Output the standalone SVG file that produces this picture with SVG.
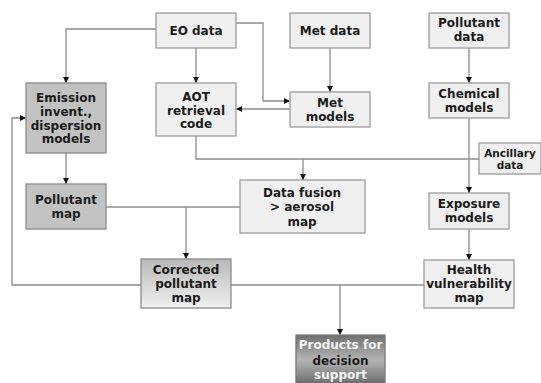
<svg xmlns="http://www.w3.org/2000/svg" width="541" height="383" viewBox="0 0 541 383">
  <style>
    .box { fill: #efefef; stroke: #9a9a9a; stroke-width: 1.3; }
    .dark { fill: #c2c2c2; stroke: #8a8a8a; stroke-width: 1.3; }
    .grad { fill: url(#corr); stroke: #8a8a8a; stroke-width: 1.3; }
    .prod { fill: url(#prod); stroke: #777; stroke-width: 1.3; }
    .t { font-family: "DejaVu Sans", Verdana, sans-serif; font-weight: bold; font-size: 12px; fill: #1a1a1a; text-anchor: middle; }
    .s { font-size: 10.5px; }
    .w { fill: #f4f4f4; }
    .ln { fill: none; stroke: #8c8c8c; stroke-width: 1.3; }
  </style>
  <defs>
    <marker id="ah" viewBox="0 0 10 10" refX="10" refY="5" markerWidth="6" markerHeight="6" markerUnits="userSpaceOnUse" orient="auto">
      <path d="M0,0 L10,5 L0,10 Z" fill="#111"/>
    </marker>
    <linearGradient id="corr" x1="0" y1="0" x2="0" y2="1">
      <stop offset="0" stop-color="#b8b8b8"/>
      <stop offset="1" stop-color="#f0f0f0"/>
    </linearGradient>
    <linearGradient id="prod" x1="0" y1="0" x2="0" y2="1">
      <stop offset="0" stop-color="#6e6e6e"/>
      <stop offset="0.5" stop-color="#b4b4b4"/>
      <stop offset="1" stop-color="#6a6a6a"/>
    </linearGradient>
  </defs>
  <rect width="541" height="383" fill="#ffffff"/>

  <!-- connectors -->
  <g id="connectors">
    <polyline class="ln" points="156,29 66,29 66,83" marker-end="url(#ah)"/>
    <line class="ln" x1="196" y1="48" x2="196" y2="83" marker-end="url(#ah)"/>
    <polyline class="ln" points="236,23 263,23 263,101 290,101" marker-end="url(#ah)"/>
    <line class="ln" x1="290" y1="109" x2="236" y2="109" marker-end="url(#ah)"/>
    <line class="ln" x1="330" y1="48" x2="330" y2="92" marker-end="url(#ah)"/>
    <line class="ln" x1="469" y1="48" x2="469" y2="83" marker-end="url(#ah)"/>
    <line class="ln" x1="469" y1="118" x2="469" y2="193" marker-end="url(#ah)"/>
    <line class="ln" x1="469" y1="229" x2="469" y2="260" marker-end="url(#ah)"/>
    <polyline class="ln" points="196,136 196,159 479,159"/>
    <line class="ln" x1="303" y1="159" x2="303" y2="180" marker-end="url(#ah)"/>
    <line class="ln" x1="66" y1="153" x2="66" y2="184" marker-end="url(#ah)"/>
    <line class="ln" x1="106" y1="207" x2="240" y2="207"/>
    <line class="ln" x1="186" y1="207" x2="186" y2="259" marker-end="url(#ah)"/>
    <line class="ln" x1="231" y1="285" x2="424" y2="285"/>
    <line class="ln" x1="340" y1="285" x2="340" y2="335" marker-end="url(#ah)"/>
    <polyline class="ln" points="141,285 12,285 12,118 26,118" marker-end="url(#ah)"/>
  </g>

  <g id="eo-data">
    <rect class="box" x="156" y="13" width="80" height="35"/>
    <text class="t" x="196" y="35">EO data</text>
  </g>
  <g id="met-data">
    <rect class="box" x="290" y="13" width="80" height="35"/>
    <text class="t" x="330" y="35">Met data</text>
  </g>
  <g id="pollutant-data">
    <rect class="box" x="429" y="13" width="80" height="35"/>
    <text class="t" x="469" y="27">Pollutant</text>
    <text class="t" x="469" y="41">data</text>
  </g>
  <g id="emission">
    <rect class="dark" x="26" y="83" width="80" height="70"/>
    <text class="t" x="66" y="102">Emission</text>
    <text class="t" x="66" y="115.5">invent.,</text>
    <text class="t" x="66" y="129.5">dispersion</text>
    <text class="t" x="66" y="143">models</text>
  </g>
  <g id="aot">
    <rect class="box" x="156" y="83" width="80" height="53"/>
    <text class="t" x="196" y="101">AOT</text>
    <text class="t" x="196" y="114.5">retrieval</text>
    <text class="t" x="196" y="128">code</text>
  </g>
  <g id="met-models">
    <rect class="box" x="290" y="92" width="80" height="35"/>
    <text class="t" x="330" y="107">Met</text>
    <text class="t" x="330" y="121">models</text>
  </g>
  <g id="chemical-models">
    <rect class="box" x="429" y="83" width="80" height="35"/>
    <text class="t" x="469" y="98">Chemical</text>
    <text class="t" x="469" y="112">models</text>
  </g>
  <g id="ancillary">
    <rect class="box" x="479" y="143" width="62" height="31"/>
    <text class="t s" x="510" y="157">Ancillary</text>
    <text class="t s" x="510" y="169">data</text>
  </g>
  <g id="pollutant-map">
    <rect class="dark" x="26" y="184" width="80" height="45"/>
    <text class="t" x="66" y="204">Pollutant</text>
    <text class="t" x="66" y="218">map</text>
  </g>
  <g id="data-fusion">
    <rect class="box" x="240" y="180" width="125" height="53"/>
    <text class="t" x="302" y="197">Data fusion</text>
    <text class="t" x="302" y="211">&gt; aerosol</text>
    <text class="t" x="302" y="226">map</text>
  </g>
  <g id="exposure">
    <rect class="box" x="429" y="193" width="80" height="36"/>
    <text class="t" x="469" y="208">Exposure</text>
    <text class="t" x="469" y="222">models</text>
  </g>
  <g id="corrected">
    <rect class="grad" x="141" y="259" width="90" height="49"/>
    <text class="t" x="186" y="274">Corrected</text>
    <text class="t" x="186" y="288">pollutant</text>
    <text class="t" x="186" y="302">map</text>
  </g>
  <g id="health">
    <rect class="box" x="424" y="260" width="90" height="48"/>
    <text class="t" x="469" y="274">Health</text>
    <text class="t" x="469" y="288">vulnerability</text>
    <text class="t" x="469" y="302">map</text>
  </g>
  <g id="products">
    <rect class="prod" x="296" y="335" width="89" height="50"/>
    <text class="t w" x="340.5" y="349">Products for</text>
    <text class="t" x="340.5" y="365">decision</text>
    <text class="t w" x="340.5" y="379">support</text>
  </g>
</svg>
